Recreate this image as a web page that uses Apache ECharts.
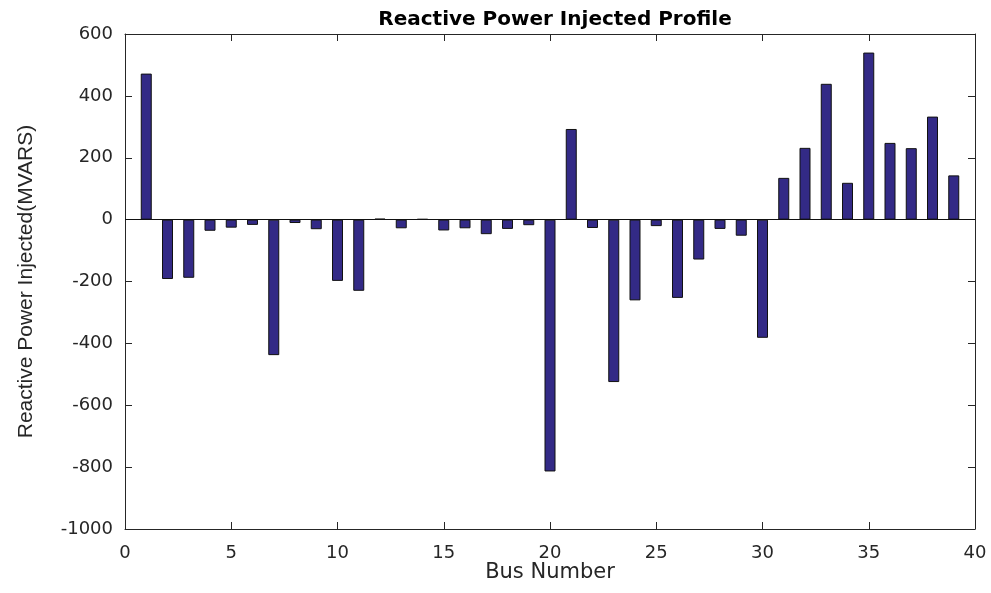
<!DOCTYPE html>
<html>
<head>
<meta charset="utf-8">
<script src="https://cdn.jsdelivr.net/npm/echarts@6/dist/echarts.min.js"></script>
<style>html,body{margin:0;padding:0;background:#fff}#c{width:991px;height:593px}</style>
</head>
<body>
<div id="c"></div>
<script>
const busNumbers = [1,2,3,4,5,6,7,8,9,10,11,12,13,14,15,16,17,18,19,20,21,22,23,24,25,26,27,28,29,30,31,32,33,34,35,36,37,38,39];
const reactivePower = [472,-192,-188,-36,-26,-17,-438,-11,-31,-198,-230,3,-28,2,-35,-28,-47,-30,-18,-814,293,-27,-525,-261,-21,-253,-129,-30,-52,-382,135,232,439,119,540,248,231,333,143];
const xTicks = {min:0, max:40, interval:5};
const yTicks = {min:-1000, max:600, interval:200};

const chart = echarts.init(document.getElementById('c'));
const axisCol = '#262626';
const wide = '"DejaVu Sans", Verdana, sans-serif';
const plain = '"Liberation Sans", Arial, sans-serif';
chart.setOption({
  animation:false,
  backgroundColor:'#fff',
  title:{text:'Reactive Power Injected Profile', left:550, textAlign:'center', top:5,
    textStyle:{fontFamily:wide, fontWeight:'bold', fontSize:20, color:'#000'}},
  grid:{left:125, right:16, top:34, bottom:64, outerBoundsMode:'none', containLabel:false},
  xAxis:[{type:'value', min:xTicks.min, max:xTicks.max, interval:xTicks.interval, position:'bottom',
    name:'Bus Number', nameLocation:'middle', nameGap:33, nameMoveOverlap:false,
    nameTextStyle:{fontFamily:wide, fontSize:21, color:'#262626'},
    axisLine:{show:true, onZero:false, lineStyle:{color:axisCol, width:1}},
    axisTick:{show:true, inside:true, length:7, lineStyle:{color:axisCol}},
    axisLabel:{fontFamily:wide, fontSize:18, color:'#262626', margin:15, formatter:v=>String(v)},
    splitLine:{show:false}},
   {type:'value', min:xTicks.min, max:xTicks.max, interval:xTicks.interval, position:'top',
    axisLine:{show:true, onZero:false, lineStyle:{color:axisCol, width:1}},
    axisTick:{show:true, inside:true, length:7, lineStyle:{color:axisCol}},
    axisLabel:{show:false}, splitLine:{show:false}}],
  yAxis:[{type:'value', min:yTicks.min, max:yTicks.max, interval:yTicks.interval, position:'left',
    name:'Reactive Power Injected(MVARS)', nameLocation:'middle', nameGap:88,
    nameTextStyle:{fontFamily:plain, fontSize:21, color:'#262626'},
    axisLine:{show:true, onZero:false, lineStyle:{color:axisCol, width:1}},
    axisTick:{show:true, inside:true, length:7, lineStyle:{color:axisCol}},
    axisLabel:{fontFamily:wide, fontSize:18, color:'#262626', margin:12, formatter:v=>String(v)},
    splitLine:{show:false}},
   {type:'value', min:yTicks.min, max:yTicks.max, interval:yTicks.interval, position:'right',
    axisLine:{show:true, onZero:false, lineStyle:{color:axisCol, width:1}},
    axisTick:{show:true, inside:true, length:7, lineStyle:{color:axisCol}},
    axisLabel:{show:false}, splitLine:{show:false}}],
  series:[{type:'bar', xAxisIndex:0, yAxisIndex:0, barWidth:11,
    data: busNumbers.map((b,i)=>[b, reactivePower[i]]),
    itemStyle:{color:'#332a86', borderColor:'#111', borderWidth:1},
    markLine:{silent:true, symbol:'none', label:{show:false},
      lineStyle:{color:'#111', width:1, type:'solid'}, data:[{yAxis:0}]}}]
});
</script>
</body>
</html>
